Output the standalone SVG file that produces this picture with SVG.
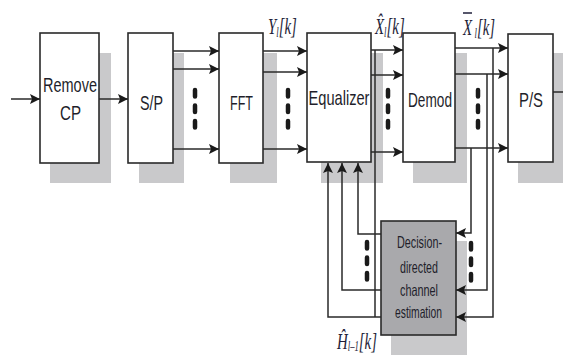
<svg xmlns="http://www.w3.org/2000/svg" width="563" height="355" viewBox="0 0 563 355">
<style>
.shadow{fill:#c9c9cb;stroke:none}
.box{fill:#ffffff;stroke:#2a2a2a;stroke-width:1.6}
.est{fill:#a9a9ac;stroke:#2a2a2a;stroke-width:1.6}
.lbl{font-family:"Liberation Sans",Arial,sans-serif;font-size:21px;fill:#1f1f2b;text-anchor:start}
.small{font-family:"Liberation Sans",Arial,sans-serif;font-size:16.5px;fill:#1f1f2b}
.m{font-family:"Liberation Serif","Times New Roman",serif;font-style:italic;font-size:24px;fill:#1f1f3a}
.sub{font-size:14px}
.ln{fill:none;stroke:#2a2a2a;stroke-width:1.5}
.arr{marker-end:url(#ah)}
.dots{stroke:#1a1a1a;stroke-width:4.5;stroke-dasharray:6.5 9;stroke-linecap:round;fill:none}
</style>
<defs>
<marker id="ah" viewBox="0 0 10 10" refX="10" refY="5" markerWidth="10" markerHeight="11" markerUnits="userSpaceOnUse" orient="auto">
<path d="M0,0 L10,5 L0,10 L2,5 z" fill="#1a1a1a"/>
</marker>
</defs>
<rect width="563" height="355" fill="#ffffff"/>

<g id="shadows">
<rect class="shadow" x="50" y="53" width="61" height="130"/>
<rect class="shadow" x="139" y="53" width="45" height="130"/>
<rect class="shadow" x="230" y="53" width="47" height="130"/>
<rect class="shadow" x="321" y="53" width="62" height="130"/>
<rect class="shadow" x="413" y="53" width="54" height="130"/>
<rect class="shadow" x="518" y="53" width="45" height="130"/>
<rect class="shadow" x="391" y="241" width="76" height="114"/>
</g>

<g id="removecp">
<rect class="box" x="40" y="33" width="59" height="130"/>
<text class="lbl" x="43" y="92" textLength="54" lengthAdjust="spacingAndGlyphs">Remove</text>
<text class="lbl" x="60" y="120" textLength="21" lengthAdjust="spacingAndGlyphs">CP</text>
</g>
<g id="sp">
<rect class="box" x="128" y="33" width="45" height="130"/>
<text class="lbl" x="140" y="110" textLength="23" lengthAdjust="spacingAndGlyphs">S/P</text>
</g>
<g id="fft">
<rect class="box" x="219" y="33" width="44" height="130"/>
<text class="lbl" x="230" y="110" textLength="23" lengthAdjust="spacingAndGlyphs">FFT</text>
</g>
<g id="equalizer">
<rect class="box" x="307" y="33" width="64" height="129"/>
<text class="lbl" x="308.5" y="105" textLength="61" lengthAdjust="spacingAndGlyphs">Equalizer</text>
</g>
<g id="demod">
<rect class="box" x="403" y="33" width="52" height="129"/>
<text class="lbl" x="408" y="107" textLength="44" lengthAdjust="spacingAndGlyphs">Demod</text>
</g>
<g id="ps">
<rect class="box" x="508" y="34" width="45" height="128"/>
<text class="lbl" x="519" y="107" textLength="24" lengthAdjust="spacingAndGlyphs">P/S</text>
</g>
<g id="estimation">
<rect class="est" x="381" y="221" width="75" height="114"/>
<text class="small" x="397" y="248" textLength="45" lengthAdjust="spacingAndGlyphs">Decision-</text>
<text class="small" x="400" y="273" textLength="38" lengthAdjust="spacingAndGlyphs">directed</text>
<text class="small" x="400" y="296" textLength="38" lengthAdjust="spacingAndGlyphs">channel</text>
<text class="small" x="395" y="318" textLength="47" lengthAdjust="spacingAndGlyphs">estimation</text>
</g>

<g id="connectors">
<line class="ln arr" x1="11" y1="99" x2="40" y2="99"/>
<line class="ln arr" x1="99" y1="99" x2="128" y2="99"/>
<line class="ln arr" x1="173" y1="51" x2="219" y2="51"/>
<line class="ln arr" x1="173" y1="69" x2="219" y2="69"/>
<line class="ln arr" x1="173" y1="149" x2="219" y2="149"/>
<line class="ln arr" x1="263" y1="51" x2="307" y2="51"/>
<line class="ln arr" x1="263" y1="72" x2="307" y2="72"/>
<line class="ln arr" x1="263" y1="149" x2="307" y2="149"/>
<line class="ln arr" x1="371" y1="50" x2="403" y2="50"/>
<line class="ln arr" x1="371" y1="75" x2="403" y2="75"/>
<line class="ln arr" x1="371" y1="152" x2="403" y2="152"/>
<line class="ln arr" x1="455" y1="48" x2="508" y2="48"/>
<line class="ln arr" x1="455" y1="74" x2="508" y2="74"/>
<line class="ln arr" x1="455" y1="148" x2="508" y2="148"/>
<line class="ln" x1="553" y1="92" x2="563" y2="92"/>
<polyline class="ln" points="375,50 375,317"/>
<polyline class="ln arr" points="381,317 328,317 328,163"/>
<polyline class="ln arr" points="381,290 342,290 342,163"/>
<polyline class="ln arr" points="381,234 358,234 358,163"/>
<polyline class="ln arr" points="493,48 493,317 456,317"/>
<polyline class="ln arr" points="487,74 487,290 456,290"/>
<polyline class="ln arr" points="471,148 471,233 456,233"/>
<line class="dots" x1="195" y1="90" x2="195" y2="129"/>
<line class="dots" x1="288" y1="90" x2="288" y2="129"/>
<line class="dots" x1="388" y1="90" x2="388" y2="128"/>
<line class="dots" x1="478" y1="90" x2="478" y2="128"/>
<line class="dots" x1="367" y1="242" x2="367" y2="280"/>
<line class="dots" x1="471" y1="243" x2="471" y2="281"/>
</g>

<g id="labels">
<g transform="translate(268,34) scale(0.62,1)"><text class="m" x="0" y="0">Y<tspan class="sub" dy="3">l</tspan><tspan dy="-3">[k]</tspan></text></g>
<g transform="translate(375,34) scale(0.62,1)"><text class="m" x="0" y="0">X̂<tspan class="sub" dy="3">l</tspan><tspan dy="-3">[k]</tspan></text></g>
<g transform="translate(463,35) scale(0.62,1)"><text class="m" x="0" y="0">X<tspan class="sub" dx="4" dy="3">l</tspan><tspan dy="-3">[k]</tspan></text></g>
<line x1="463" y1="13" x2="472" y2="13" stroke="#1f1f3a" stroke-width="1.5"/>
<g transform="translate(337,349) scale(0.62,1)"><text class="m" x="0" y="0">Ĥ<tspan class="sub" dy="2">l–1</tspan><tspan dy="-2">[k]</tspan></text></g>
</g>
</svg>
